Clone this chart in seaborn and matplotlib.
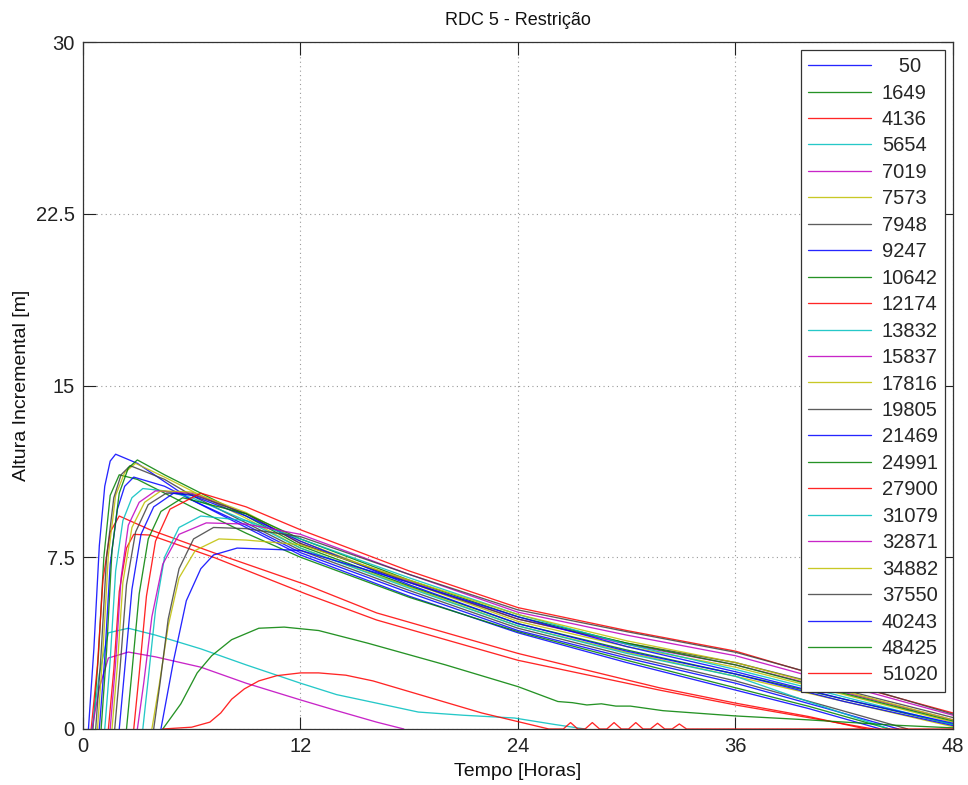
import pandas as pd
import seaborn as sns
import matplotlib

matplotlib.use("Agg")
import matplotlib.pyplot as plt

# estacoes (legenda) e cores no ciclo antigo do MATLAB
estacoes = ["   50", "1649", "4136", "5654", "7019", "7573", "7948", "9247",
            "10642", "12174", "13832", "15837", "17816", "19805", "21469",
            "24991", "27900", "31079", "32871", "34882", "37550", "40243",
            "48425", "51020"]
cores = ["b", "g", "r", "c", "m", "y", "k"]
x_ticks = [0, 12, 24, 36, 48]
y_ticks = [0, 7.5, 15, 22.5, 30]

# hidrogramas: tempo [h] e altura [m]
t_50 = [0.3, 0.6, 0.9, 1.2, 1.5, 1.8, 3.0, 4.5, 6, 9, 12, 18, 24, 30, 36, 40, 44]
h_50 = [0, 3.5, 8.0, 10.6, 11.7, 12.0, 11.6, 10.8, 10.0, 8.8, 7.6, 5.8, 4.2, 2.9, 1.7, 0.9, 0]
t_1649 = [0.55, 0.85, 1.15, 1.5, 2.0, 3, 4.5, 6, 9, 12, 18, 24, 30, 36, 40, 44.5]
h_1649 = [0, 3.2, 7.5, 10.2, 11.1, 10.9, 10.3, 9.7, 8.55, 7.5, 5.75, 4.25, 3.0, 1.8, 1.0, 0]
t_4136 = [0.45, 0.8, 1.1, 1.5, 2.0, 3.7, 7.2, 12.3, 16.2, 24, 31.8, 36, 40, 43.2]
h_4136 = [0, 2.8, 6.5, 8.6, 9.3, 8.7, 7.7, 6.3, 5.07, 3.3, 1.8, 1.13, 0.55, 0]
t_5654 = [0.5, 0.9, 1.4, 2.5, 4.0, 6.5, 9, 12, 14, 16.2, 18.5, 21, 23.8, 26, 27.7]
h_5654 = [0, 2.4, 4.2, 4.4, 4.1, 3.5, 2.8, 2.0, 1.5, 1.13, 0.74, 0.6, 0.48, 0.2, 0]
t_7019 = [0.5, 0.9, 1.4, 2.5, 4.0, 6.5, 9, 12, 14, 16.2, 17.7]
h_7019 = [0, 1.8, 3.1, 3.36, 3.15, 2.7, 2.0, 1.27, 0.8, 0.3, 0]
t_7573 = [0.8, 1.1, 1.4, 1.8, 2.3, 2.9, 4.5, 6, 9, 12, 18, 24, 30, 36, 42, 48]
h_7573 = [0, 3.4, 7.6, 10.2, 11.2, 11.6, 11.0, 10.4, 9.2, 7.9, 6.2, 4.5, 3.35, 2.3, 1.2, 0.1]
t_7948 = [0.7, 1.0, 1.3, 1.7, 2.1, 2.6, 4.5, 6, 9, 12, 18, 24, 30, 36, 41, 45.5]
h_7948 = [0, 3.3, 7.5, 10.1, 11.1, 11.5, 10.9, 10.2, 9.0, 7.8, 6.05, 4.4, 3.2, 2.1, 1.0, 0]
t_9247 = [0.9, 1.2, 1.5, 1.9, 2.3, 2.8, 4.5, 6, 9, 12, 18, 24, 30, 36, 41, 45]
h_9247 = [0, 3.1, 7.2, 9.6, 10.6, 11.0, 10.6, 10.0, 8.9, 7.7, 5.95, 4.3, 3.1, 2.0, 0.9, 0]
t_10642 = [1.0, 1.3, 1.6, 2.0, 2.5, 3.0, 4.5, 6, 9, 12, 18, 24, 30, 36, 42, 48]
h_10642 = [0, 3.4, 7.8, 10.3, 11.4, 11.75, 11.1, 10.5, 9.3, 8.0, 6.25, 4.6, 3.45, 2.4, 1.3, 0.2]
t_12174 = [1.4, 1.7, 2.0, 2.4, 2.8, 3.7, 7.2, 12.3, 16.2, 24, 31.8, 36, 40, 43.6]
h_12174 = [0, 2.6, 6.0, 7.9, 8.5, 8.47, 7.5, 5.9, 4.76, 3.0, 1.7, 1.05, 0.5, 0]
t_13832 = [1.2, 1.5, 1.8, 2.2, 2.7, 3.3, 4.5, 6, 9, 12, 18, 24, 30, 36, 40, 44.5]
h_13832 = [0, 3.0, 6.9, 9.1, 10.1, 10.5, 10.4, 10.1, 9.1, 7.9, 6.15, 4.5, 3.3, 2.3, 1.2, 0]
t_15837 = [1.5, 1.8, 2.1, 2.5, 3.1, 4.0, 6, 9, 12, 18, 24, 30, 36, 42, 48]
h_15837 = [0, 2.9, 6.6, 8.9, 9.9, 10.4, 10.3, 9.4, 8.1, 6.45, 4.8, 3.7, 2.8, 1.6, 0.4]
t_17816 = [1.6, 1.9, 2.2, 2.7, 3.4, 4.3, 6, 9, 12, 18, 24, 30, 36, 42, 48]
h_17816 = [0, 2.8, 6.4, 8.8, 9.9, 10.4, 10.35, 9.45, 8.2, 6.4, 4.7, 3.6, 2.7, 1.5, 0.3]
t_19805 = [1.75, 2.05, 2.4, 2.9, 3.6, 4.6, 6, 9, 12, 18, 24, 30, 36, 42, 48]
h_19805 = [0, 2.7, 6.3, 8.6, 9.8, 10.3, 10.25, 9.4, 8.1, 6.4, 4.8, 3.75, 2.9, 1.7, 0.5]
t_21469 = [2.0, 2.3, 2.7, 3.2, 3.9, 5.0, 6, 9, 12, 18, 24, 30, 36, 42, 48]
h_21469 = [0, 2.6, 6.1, 8.5, 9.7, 10.3, 10.2, 9.3, 8.2, 6.3, 4.6, 3.4, 2.4, 1.2, 0.15]
t_24991 = [2.4, 2.7, 3.1, 3.6, 4.3, 5.5, 9, 12, 18, 24, 30, 36, 42, 48]
h_24991 = [0, 2.5, 5.9, 8.3, 9.5, 10.1, 9.4, 8.3, 6.5, 4.9, 3.75, 2.8, 1.55, 0.35]
t_27900 = [2.8, 3.1, 3.5, 4.0, 4.8, 6.5, 9, 12, 18, 24, 30, 36, 42, 48]
h_27900 = [0, 2.4, 5.8, 8.2, 9.6, 10.3, 9.7, 8.7, 6.9, 5.3, 4.3, 3.4, 2.0, 0.7]
t_31079 = [3.3, 3.6, 4.0, 4.5, 5.3, 6.5, 9, 12, 18, 24, 30, 36, 42, 48]
h_31079 = [0, 2.2, 5.2, 7.5, 8.8, 9.3, 9.1, 8.3, 6.6, 5.0, 3.7, 2.6, 1.4, 0.2]
t_32871 = [3.0, 3.35, 3.8, 4.4, 5.3, 6.8, 9, 12, 18, 24, 30, 36, 42, 48]
h_32871 = [0, 2.0, 4.9, 7.2, 8.5, 9.0, 8.95, 8.5, 6.75, 5.1, 4.1, 3.2, 1.9, 0.6]
t_34882 = [3.8, 4.2, 4.7, 5.3, 6.2, 7.5, 9, 12, 18, 24, 30, 36, 42, 48]
h_34882 = [0, 1.9, 4.5, 6.6, 7.8, 8.3, 8.25, 8.05, 6.5, 5.0, 3.85, 2.9, 1.65, 0.4]
t_37550 = [3.9, 4.25, 4.7, 5.3, 6.1, 7.2, 9, 12, 18, 24, 30, 36, 42, 48]
h_37550 = [0, 2.0, 4.8, 7.0, 8.3, 8.8, 8.75, 8.4, 6.75, 5.2, 4.25, 3.35, 2.05, 0.65]
t_40243 = [4.3, 5.0, 5.7, 6.5, 7.2, 8.5, 12, 18, 24, 30, 36, 42, 48]
h_40243 = [0, 3.0, 5.6, 7.0, 7.6, 7.9, 7.8, 6.4, 4.9, 3.6, 2.5, 1.3, 0.25]
t_48425 = [4.4, 5.4, 6.3, 7.1, 8.2, 9.7, 11.1, 13, 15.7, 20, 24, 26.2, 27, 27.8,
           28.6, 29.4, 30.2, 32, 36, 40, 44.7, 48]
h_48425 = [0, 1.1, 2.45, 3.2, 3.9, 4.4, 4.45, 4.3, 3.75, 2.8, 1.85, 1.2, 1.15, 1.05,
           1.1, 1.0, 1.0, 0.8, 0.57, 0.4, 0.17, 0.05]
t_51020 = [4.4, 6.0, 7.0, 7.6, 8.2, 8.9, 9.7, 10.7, 12.0, 13.0, 14.5, 16, 19, 22, 25.7,
           26.5, 26.9, 27.3, 27.7, 28.1, 28.5, 28.9, 29.3, 29.7, 30.1, 30.5, 30.9,
           31.3, 31.7, 32.1, 32.5, 32.9, 33.3, 33.7, 48]
h_51020 = [0, 0.08, 0.3, 0.7, 1.3, 1.75, 2.1, 2.33, 2.45, 2.45, 2.35, 2.1, 1.4, 0.7, 0,
           0, 0.28, 0, 0, 0.28, 0, 0, 0.28, 0, 0, 0.28, 0,
           0, 0.25, 0, 0, 0.22, 0, 0, 0]

tempos = [t_50, t_1649, t_4136, t_5654, t_7019, t_7573, t_7948, t_9247, t_10642,
          t_12174, t_13832, t_15837, t_17816, t_19805, t_21469, t_24991, t_27900,
          t_31079, t_32871, t_34882, t_37550, t_40243, t_48425, t_51020]
alturas = [h_50, h_1649, h_4136, h_5654, h_7019, h_7573, h_7948, h_9247, h_10642,
           h_12174, h_13832, h_15837, h_17816, h_19805, h_21469, h_24991, h_27900,
           h_31079, h_32871, h_34882, h_37550, h_40243, h_48425, h_51020]

rows = []
for nome, ts, hs in zip(estacoes, tempos, alturas):
    for t, h in zip(ts, hs):
        rows.append({"Estacao": nome, "Tempo": t, "Altura": h})
df = pd.DataFrame(rows)

matlab_rgb = {
    "b": (0, 0, 1), "g": (0, 0.5, 0), "r": (1, 0, 0), "c": (0, 0.75, 0.75),
    "m": (0.75, 0, 0.75), "y": (0.75, 0.75, 0), "k": (0.25, 0.25, 0.25),
}
palette = {nome: matlab_rgb[cores[i % 7]] for i, nome in enumerate(estacoes)}

sns.set_theme(style="white")
plt.rcParams["font.family"] = ["Liberation Sans", "DejaVu Sans"]

fig = plt.figure(figsize=(9.68, 7.85), dpi=100)
ax = fig.add_axes([83 / 968, 1 - 729 / 785, 870 / 968, 687 / 785])

sns.lineplot(data=df, x="Tempo", y="Altura", hue="Estacao", hue_order=estacoes,
             palette=palette, sort=False, estimator=None, legend=False,
             linewidth=0.95, alpha=0.85, ax=ax)

ax.set_xlim(0, 48)
ax.set_ylim(0, 30)
ax.set_xticks(x_ticks)
ax.set_xticklabels([str(v) for v in x_ticks])
ax.set_yticks(y_ticks)
ax.set_yticklabels(["0", "7.5", "15", "22.5", "30"])
ax.tick_params(direction="in", length=9, width=0.8, labelsize=14.5, colors="#222222",
               top=True, right=True, bottom=True, left=True, pad=6)
ax.grid(True, color="#9a9a9a", linestyle=(0, (1, 3)), linewidth=0.8)
for sp in ax.spines.values():
    sp.set_color("#333333")
    sp.set_linewidth(0.9)

ax.set_title("RDC 5 - Restrição", fontsize=13, color="#111111", pad=12)
ax.set_xlabel("Tempo [Horas]", fontsize=14, color="#111111", labelpad=5)
ax.set_ylabel("Altura Incremental [m]", fontsize=14, color="#111111", labelpad=4)

leg = ax.legend(ax.get_lines(), estacoes, loc="upper right", fontsize=14.5,
                handlelength=3.1, handletextpad=0.55, labelspacing=0.37,
                borderpad=0.35, borderaxespad=0.4, fancybox=False, framealpha=1,
                edgecolor="#333333")
leg.get_frame().set_linewidth(0.9)

fig.savefig("out.png", dpi=100, facecolor="white")
